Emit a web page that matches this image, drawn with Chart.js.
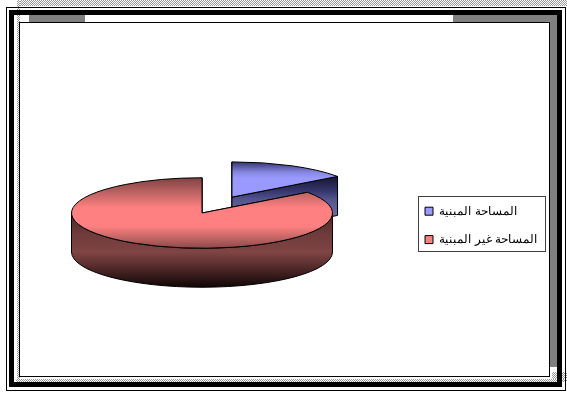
<!DOCTYPE html>
<html>
<head>
<meta charset="utf-8">
<script src="https://cdn.jsdelivr.net/npm/chart.js@4"></script>
<style>
    html, body { margin: 0; padding: 0; background: #fff; }
    #page { position: relative; width: 567px; height: 394px; overflow: hidden; }
    #page div { position: absolute; box-sizing: border-box; }
    #chart { position: absolute; left: 0; top: 0; }
    .dots { background: repeating-conic-gradient(#999 0 25%, #fff 0 50%) 0 0 / 2px 2px; }
    .grey { background: #808080; }
</style>
</head>
<body>
<div id="page">
    <!-- page border -->
    <div class="dots" style="left:20px;top:0;width:547px;height:6px"></div>
    <div class="dots" style="left:17px;top:0;width:3px;height:380px"></div>
    <div class="dots" style="left:16px;top:379px;width:551px;height:3px"></div>
    <div class="dots" style="left:552px;top:372px;width:15px;height:7px"></div>
    <div style="left:6px;top:7px;width:560px;height:384px;border:1px solid #000"></div>
    <div style="left:9px;top:10px;width:553px;height:377px;border:5px solid #000"></div>
    <div class="grey" style="left:29px;top:15px;width:56px;height:7px"></div>
    <div class="grey" style="left:453px;top:15px;width:104px;height:7px"></div>
    <div class="grey" style="left:549px;top:15px;width:8px;height:352px"></div>
    <div style="left:19px;top:22px;width:531px;height:355px;border:1px solid #000;background:#fff"></div>
    <canvas id="chart" width="567" height="394"></canvas>
</div>
<script>
const labels = ["المساحة المبنية", "المساحة غير المبنية"];
const values = [15, 85];
const colors = ["#9999ff", "#ff8080"];

// how the flat pie is laid down on the page
const centerX = 202;
const centerY = 213;
const squash = 0.27;
const depth = 39;
const explode = [66, 0];

// gradient stops, given as page y
const topStops = [
    [[162, "#34346f"], [172, "#8585e0"], [178, "#9999ff"], [230, "#9999ff"]],
    [[178, "#804444"], [194, "#c46666"], [208, "#ff8080"], [226, "#ff8080"], [240, "#b86060"], [249, "#864646"]]
];
const sideStops = [
    [[176, "#15152f"], [190, "#33336a"], [200, "#55558f"], [216, "#6a6aa5"]],
    [[213, "#4a2828"], [235, "#703c3c"], [252, "#804444"], [265, "#5a2e2e"], [287, "#120606"]]
];

function pageGradient(ctx, stops, toY) {
    let y0 = stops[0][0];
    let y1 = stops[stops.length - 1][0];
    let g = ctx.createLinearGradient(0, toY(y0), 0, toY(y1));
    stops.forEach(s => g.addColorStop((s[0] - y0) / (y1 - y0), s[1]));
    return g;
}

function drawFace(ctx, sx, sy, r, a) {
    let x = sx + r * Math.cos(a);
    let y = sy + r * squash * Math.sin(a);
    ctx.beginPath();
    ctx.moveTo(sx, sy);
    ctx.lineTo(x, y);
    ctx.lineTo(x, y + depth);
    ctx.lineTo(sx, sy + depth);
    ctx.closePath();
    ctx.fill();
    ctx.stroke();
}

function drawWall(ctx, sx, sy, r, start, end) {
    let a0 = Math.max(start, 0);
    let a1 = Math.min(end, Math.PI);
    if (a0 >= a1) return;
    ctx.beginPath();
    ctx.ellipse(sx, sy, r, r * squash, 0, a0, a1);
    ctx.ellipse(sx, sy + depth, r, r * squash, 0, a1, a0, true);
    ctx.closePath();
    ctx.fill();
    ctx.stroke();
}

// slices are drawn as tilted discs with a side wall under each one
const tiltedPie = {
    id: "tiltedPie",
    afterLayout(chart) {
        let legend = chart.legend;
        let w = legend.width;
        legend.left = 409;
        legend.right = 409 + w;
        legend.top = 189;
        legend.bottom = 189 + legend.height;
    },
    beforeDatasetsDraw(chart) {
        let ctx = chart.ctx;
        let arcs = chart.getDatasetMeta(0).data;
        arcs.forEach((arc, i) => {
            let r = arc.outerRadius;
            let mid = (arc.startAngle + arc.endAngle) / 2;
            let sx = centerX + explode[i] * Math.cos(mid);
            let sy = centerY + explode[i] * squash * Math.sin(mid);

            ctx.save();
            ctx.strokeStyle = "#000";
            ctx.lineWidth = 1;
            ctx.lineJoin = "round";
            ctx.fillStyle = pageGradient(ctx, sideStops[i], y => y);
            drawFace(ctx, sx, sy, r, arc.startAngle);
            drawFace(ctx, sx, sy, r, arc.endAngle);
            drawWall(ctx, sx, sy, r, arc.startAngle, arc.endAngle);

            // top of the slice, the library's own arc under a flattening transform
            ctx.save();
            ctx.translate(sx, sy);
            ctx.scale(1, squash);
            ctx.translate(-arc.x, -arc.y);
            let fill = pageGradient(ctx, topStops[i], y => arc.y + (y - sy) / squash);
            arc.options = Object.assign({}, arc.options, { backgroundColor: fill, borderWidth: 0 });
            arc.draw(ctx);
            ctx.restore();

            ctx.beginPath();
            ctx.moveTo(sx, sy);
            ctx.ellipse(sx, sy, r, r * squash, 0, arc.startAngle, arc.endAngle);
            ctx.closePath();
            ctx.stroke();
            ctx.restore();
        });
        return false;
    },
    afterDraw(chart) {
        let ctx = chart.ctx;
        ctx.save();
        ctx.strokeStyle = "#404040";
        ctx.lineWidth = 1;
        ctx.strokeRect(418.5, 196.5, 127, 55);
        ctx.restore();
    }
};

new Chart(document.getElementById("chart"), {
    type: "pie",
    data: {
        labels: labels,
        datasets: [{
            data: values,
            backgroundColor: colors,
            borderColor: "#000",
            borderWidth: 1
        }]
    },
    options: {
        responsive: false,
        animation: false,
        events: [],
        layout: { padding: { top: 66, bottom: 66 } },
        plugins: {
            tooltip: { enabled: false },
            legend: {
                position: "right",
                align: "start",
                labels: {
                    boxWidth: 8,
                    boxHeight: 8,
                    padding: 16,
                    color: "#000",
                    font: { family: "'Liberation Sans', 'Noto Sans', sans-serif", size: 12.4 }
                }
            }
        }
    },
    plugins: [tiltedPie]
});
</script>
</body>
</html>
